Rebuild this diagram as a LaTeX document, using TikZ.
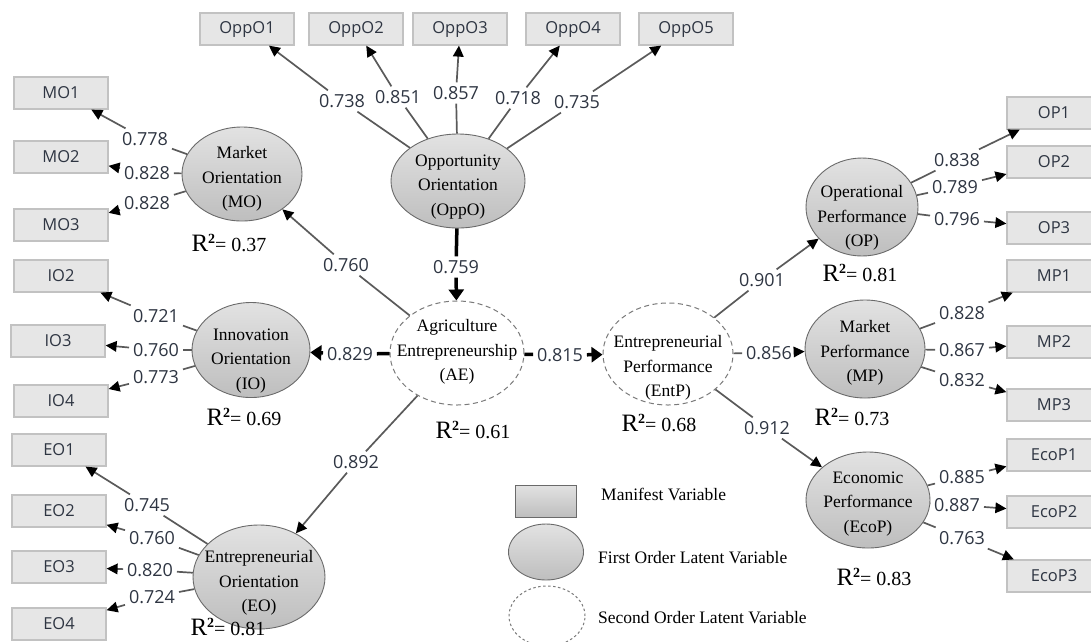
\documentclass[tikz,border=0pt]{standalone}
\usepackage{fontspec}
\setmainfont{Liberation Serif}
\newfontfamily\uifont{Open Sans}
\usetikzlibrary{shapes.geometric,arrows.meta}
\definecolor{boxfill}{HTML}{E6E6E6}
\definecolor{boxline}{HTML}{C2C2C2}
\definecolor{numcol}{HTML}{2E3542}
\definecolor{latTop}{HTML}{E2E2E2}
\definecolor{latBot}{HTML}{BEBEBE}
\definecolor{latline}{HTML}{6A6A6A}
\definecolor{secline}{HTML}{7A7A7A}
\definecolor{linegray}{HTML}{5A5A5A}
\newcommand\Rsqr[1]{{\fontsize{25}{25}\selectfont R}{\fontsize{14}{14}\selectfont\raisebox{8pt}{\bfseries 2}}{\fontsize{20}{20}\selectfont= #1}}
\newcommand\loadc[3]{\draw[ln] (#1) -- (#2); \draw[ar] (#2) -- (#3);}
\begin{document}
\begin{tikzpicture}[x=1pt,y=-1pt,
  mv/.style={draw=boxline, fill=boxfill, line width=1.2pt, minimum width=94pt, minimum height=32pt, inner sep=0pt, font=\uifont\fontsize{16.5}{16.5}\selectfont, text=numcol},
  lat/.style={ellipse, draw=latline, line width=0.9pt, top color=latTop, bottom color=latBot, inner sep=0pt},
  sol/.style={ellipse, draw=secline, line width=1pt, dash pattern=on 5pt off 3.5pt, fill=white, inner sep=0pt},
  lt/.style={font=\fontsize{17.5}{24.5}\selectfont, align=center, inner sep=0pt},
  ld/.style={font=\uifont\fontsize{18}{18}\selectfont, text=numcol, inner sep=1pt, outer sep=3pt},
  ln/.style={draw=linegray, line width=1.7pt},
  ar/.style={ln, -{Triangle[length=11pt,width=10.5pt,color=black]}},
  tk/.style={draw=black, line width=3.5pt},
  tkar/.style={tk, -{Triangle[length=11pt,width=15pt]}},
  rs/.style={inner sep=0pt},
  lg/.style={font=\fontsize{17.5}{20}\selectfont, anchor=west, inner sep=0pt}
]
\useasboundingbox (0,0) rectangle (1091,641);

% manifest variables
\node[mv] (OppO1) at (247,29) {OppO1};
\node[mv] (OppO2) at (356,29) {OppO2};
\node[mv] (OppO3) at (460,29) {OppO3};
\node[mv] (OppO4) at (573,29) {OppO4};
\node[mv] (OppO5) at (686,29) {OppO5};
\node[mv] (MO1) at (61,93) {MO1};
\node[mv] (MO2) at (61,157) {MO2};
\node[mv] (MO3) at (61,225) {MO3};
\node[mv] (IO2) at (61,276) {IO2};
\node[mv] (IO3) at (58,341) {IO3};
\node[mv] (IO4) at (61,401) {IO4};
\node[mv] (EO1) at (59,450) {EO1};
\node[mv] (EO2) at (59,511) {EO2};
\node[mv] (EO3) at (59,567) {EO3};
\node[mv] (EO4) at (59,624) {EO4};
\node[mv] (OP1) at (1054,113) {OP1};
\node[mv] (OP2) at (1054,162) {OP2};
\node[mv] (OP3) at (1054,228) {OP3};
\node[mv] (MP1) at (1054,276) {MP1};
\node[mv] (MP2) at (1054,342) {MP2};
\node[mv] (MP3) at (1054,405) {MP3};
\node[mv] (EcoP1) at (1054,455) {EcoP1};
\node[mv] (EcoP2) at (1054,512) {EcoP2};
\node[mv] (EcoP3) at (1054,576) {EcoP3};

% latent variables
\node[lat, minimum width=134pt, minimum height=94pt] (OppO) at (458,181) {};
\node[lt] (OppOt) at (458,187) {Opportunity\\Orientation\\(OppO)};
\node[lat, minimum width=120pt, minimum height=94pt] (MO) at (242,174) {};
\node[lt] (MOt) at (242,179) {Market\\Orientation\\(MO)};
\node[lat, minimum width=118pt, minimum height=95pt] (IO) at (251,350) {};
\node[lt] (IOt) at (251,361) {Innovation\\Orientation\\(IO)};
\node[lat, minimum width=132pt, minimum height=104pt] (EO) at (259,577) {};
\node[lt] (EOt) at (259,583) {Entrepreneurial\\Orientation\\(EO)};
\node[sol, minimum width=134pt, minimum height=104pt] (AE) at (457,353) {};
\node[lt] (AEt) at (457,352) {Agriculture\\Entrepreneurship\\(AE)};
\node[sol, minimum width=130pt, minimum height=102pt] (EntP) at (668,354) {};
\node[lt] (EntPt) at (668,368) {Entrepreneurial\\Performance\\(EntP)};
\node[lat, minimum width=112pt, minimum height=98pt] (OP) at (862,207) {};
\node[lt] (OPt) at (862,218) {Operational\\Performance\\(OP)};
\node[lat, minimum width=120pt, minimum height=98pt] (MP) at (865,349) {};
\node[lt] (MPt) at (865,353) {Market\\Performance\\(MP)};
\node[lat, minimum width=124pt, minimum height=96pt] (EcoP) at (868,500) {};
\node[lt] (EcoPt) at (868,504) {Economic\\Performance\\(EcoP)};

% loading labels
\node[ld] (a1) at (342,101) {0.738};
\node[ld] (a2) at (398,97) {0.851};
\node[ld] (a3) at (456,93) {0.857};
\node[ld] (a4) at (518,98) {0.718};
\node[ld] (a5) at (577,102) {0.735};
\node[ld] (m1) at (145,139) {0.778};
\node[ld] (m2) at (147,173) {0.828};
\node[ld] (m3) at (147,203) {0.828};
\node[ld] (i2) at (156,316) {0.721};
\node[ld] (i3) at (156,350) {0.760};
\node[ld] (i4) at (156,377) {0.773};
\node[ld] (e1) at (147,505) {0.745};
\node[ld] (e2) at (152,538) {0.760};
\node[ld] (e3) at (150,570) {0.820};
\node[ld] (e4) at (152,597) {0.724};
\node[ld] (o1) at (957,160) {0.838};
\node[ld] (o2) at (955,187) {0.789};
\node[ld] (o3) at (957,219) {0.796};
\node[ld] (p1) at (962,313) {0.828};
\node[ld] (p2) at (962,350) {0.867};
\node[ld] (p3) at (962,380) {0.832};
\node[ld] (c1) at (962,477) {0.885};
\node[ld] (c2) at (957,505) {0.887};
\node[ld] (c3) at (962,538) {0.763};
% structural labels
\node[ld] (s1) at (346,265) {0.760};
\node[ld] (s2) at (350,354) {0.829};
\node[ld] (s3) at (356,462) {0.892};
\node[ld] (s4) at (456,267) {0.759};
\node[ld] (s5) at (560,355) {0.815};
\node[ld] (s6) at (762,280) {0.901};
\node[ld] (s7) at (769,353) {0.856};
\node[ld] (s8) at (767,428) {0.912};

% loading connectors
\loadc{OppO}{a1}{OppO1}
\loadc{OppO}{a2}{OppO2}
\loadc{OppO}{a3}{OppO3}
\loadc{OppO}{a4}{OppO4}
\loadc{OppO}{a5}{OppO5}
\loadc{MO}{m1}{MO1}
\loadc{MO}{m2}{MO2}
\loadc{MO}{m3}{MO3}
\loadc{IO}{i2}{IO2}
\loadc{IO}{i3}{IO3}
\loadc{IO}{i4}{IO4}
\loadc{EO}{e1}{EO1}
\loadc{EO}{e2}{EO2}
\loadc{EO}{e3}{EO3}
\loadc{EO}{e4}{EO4}
\loadc{OP}{o1}{OP1}
\loadc{OP}{o2}{OP2}
\loadc{OP}{o3}{OP3}
\loadc{MP}{p1}{MP1}
\loadc{MP}{p2}{MP2}
\loadc{MP}{p3}{MP3}
\loadc{EcoP}{c1}{EcoP1}
\loadc{EcoP}{c2}{EcoP2}
\loadc{EcoP}{c3}{EcoP3}

% structural paths
\loadc{AE}{s1}{MO}
\draw[tk] (AE) -- (s2); \draw[tkar] (s2) -- (IO);
\loadc{AE}{s3}{EO}
\draw[tk] (OppO) -- (s4); \draw[tkar] (s4) -- (AE);
\draw[tk] (AE) -- (s5); \draw[tkar] (s5) -- (EntP);
\loadc{EntP}{s6}{OP}
\loadc{EntP}{s7}{MP}
\loadc{EntP}{s8}{EcoP}

% R squared
\node[rs] (r1) at (229,243) {\Rsqr{0.37}};
\node[rs] (r2) at (244,417) {\Rsqr{0.69}};
\node[rs] (r3) at (228,627) {\Rsqr{0.81}};
\node[rs] (r4) at (473,430) {\Rsqr{0.61}};
\node[rs] (r5) at (659,423) {\Rsqr{0.68}};
\node[rs] (r6) at (860,273) {\Rsqr{0.81}};
\node[rs] (r7) at (852,417) {\Rsqr{0.73}};
\node[rs] (r8) at (874,577) {\Rsqr{0.83}};

% legend
\node[draw=latline, line width=0.9pt, top color=latTop, bottom color=latBot, minimum width=61pt, minimum height=32pt, inner sep=0pt] (lgbox) at (546,501) {};
\node[lat, minimum width=75pt, minimum height=56pt] (lgell) at (546,552) {};
\node[ellipse, draw=secline, line width=1pt, dash pattern=on 2.5pt off 2.5pt, minimum width=76pt, minimum height=60pt, inner sep=0pt] (lgsec) at (547,616) {};
\node[lg] (lgt1) at (601,494) {Manifest Variable};
\node[lg] (lgt2) at (598,558) {First Order Latent Variable};
\node[lg] (lgt3) at (598,618) {Second Order Latent Variable};
\end{tikzpicture}
\end{document}
